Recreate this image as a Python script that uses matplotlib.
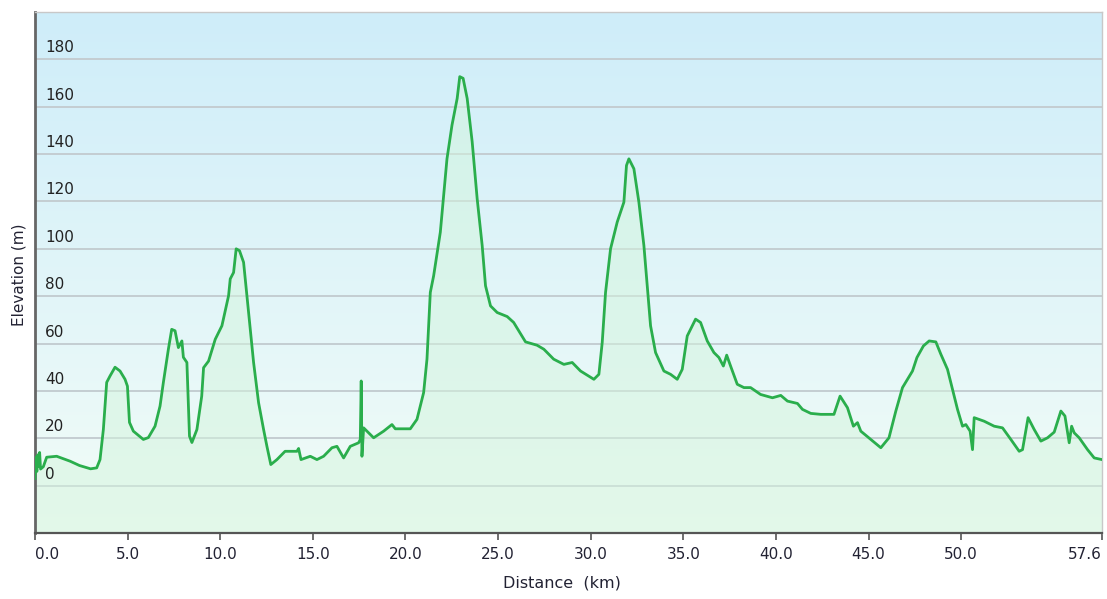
import numpy as np
import matplotlib
matplotlib.use("Agg")
import matplotlib.pyplot as plt
import matplotlib.transforms as mtransforms

# ---------------- Data ----------------
dist_km = [0.0, 0.05, 0.1, 0.15, 0.2, 0.25, 0.3, 0.45, 0.63, 1.17, 1.9, 2.4, 3.0, 3.33, 3.51,
           3.69, 3.87, 4.05, 4.32, 4.59, 4.86, 4.99, 5.1, 5.31, 5.85, 6.12, 6.48, 6.75, 6.93,
           7.2, 7.38, 7.56, 7.74, 7.93, 8.01, 8.2, 8.34, 8.47, 8.74, 9.0, 9.1, 9.37, 9.73,
           10.09, 10.45, 10.54, 10.72, 10.86, 11.04, 11.26, 11.53, 11.8, 12.07, 12.34, 12.52,
           12.73, 13.06, 13.5, 14.14, 14.23, 14.36, 14.86, 15.22, 15.58, 16.03, 16.3, 16.66,
           17.02, 17.47, 17.56, 17.61, 17.65, 17.74, 18.28, 18.82, 19.27, 19.45, 20.26, 20.62,
           20.98, 21.16, 21.34, 21.52, 21.88, 22.24, 22.51, 22.79, 22.93, 23.11, 23.33, 23.6,
           23.87, 24.14, 24.32, 24.59, 24.95, 25.49, 25.84, 26.48, 27.1, 27.47, 28.0, 28.55,
           29.0, 29.45, 30.17, 30.44, 30.62, 30.8, 31.07, 31.43, 31.79, 31.93, 32.06, 32.33,
           32.6, 32.87, 33.05, 33.23, 33.5, 33.95, 34.31, 34.67, 34.94, 35.21, 35.66, 35.93,
           36.29, 36.65, 36.92, 37.16, 37.34, 37.55, 37.91, 38.27, 38.63, 39.17, 39.81, 40.26,
           40.62, 41.16, 41.43, 41.88, 42.42, 42.87, 43.13, 43.46, 43.86, 44.18, 44.4, 44.58,
           45.12, 45.66, 46.1, 46.47, 46.83, 47.37, 47.61, 47.96, 48.27, 48.63, 48.9, 49.26,
           49.8, 50.07, 50.25, 50.48, 50.61, 50.7, 51.24, 51.78, 52.23, 52.68, 53.13, 53.31,
           53.61, 53.94, 54.3, 54.66, 55.02, 55.38, 55.6, 55.83, 55.96, 56.1, 56.37, 56.82,
           57.18, 57.6]
elev_m = [3, 12, 6, 13, 8, 14, 7, 8, 12, 12.4, 10.3, 8.5, 7.1, 7.5, 11,
          23.7, 43.6, 46.3, 50, 48.4, 44.9, 42, 26.7, 23, 19.5, 20.3, 25.1, 33.6, 43.6,
          57.6, 66, 65.4, 58.3, 61.1, 54.2, 52, 20.9, 18.2, 23.7, 37.8, 49.8, 52.6, 61.8,
          67.5, 80.2, 87.3, 90, 100, 99.2, 94.3, 73, 52, 35, 23.7, 16.6,
          8.9, 11, 14.5, 14.5, 15.7, 11, 12.4, 11, 12.4, 16, 16.6, 11.7,
          16.6, 18.1, 19.5, 44.2, 12.4, 24.4, 20.2, 23, 25.8, 24, 24, 28,
          39.3, 53.4, 81.6, 88.6, 107, 138, 152.2, 163.5, 172.7, 172, 163.5, 145.2,
          121.1, 101.4, 84.4, 75.9, 73.1, 71.4, 68.9, 60.7, 59.3, 57.6, 53.4, 51.2,
          52, 48.4, 44.9, 47, 60.4, 81.6, 100, 111.3, 119.7, 135.2, 138, 133.8,
          119.7, 101.4, 84.4, 67.5, 56.2, 48.4, 47, 44.9, 49.1, 63.2, 70.3, 68.9,
          61.1, 56.2, 54.1, 50.5, 55.1, 50.5, 42.8, 41.4, 41.4, 38.5, 37.1, 38.1,
          35.7, 34.7, 32.2, 30.5, 30.1, 30.1, 30.1, 37.8, 32.9, 25.1, 26.6, 23,
          19.5, 16, 20.2, 31.5, 41.4, 48.4, 54.1, 59, 61.1, 60.7, 55.5, 49.1,
          32.2, 25.1, 25.8, 23, 15.2, 28.7, 27.2, 25.1, 24.4, 19.5, 14.5, 15.2,
          28.7, 23.7, 18.8, 20.2, 22.6, 31.5, 29.4, 18.1, 25.1, 22.3, 20.2, 15.2,
          11.7, 11]

x_ticks = [0, 5, 10, 15, 20, 25, 30, 35, 40, 45, 50, 57.6]
y_ticks = [0, 20, 40, 60, 80, 100, 120, 140, 160, 180]

# ---------------- Figure ----------------
W, H = 1107, 599
fig = plt.figure(figsize=(W / 100, H / 100), dpi=100)
ax = fig.add_axes([35 / W, (H - 533) / H, (1102 - 35) / W, (533 - 12) / H])
ax.set_xlim(0, 57.6)
ax.set_ylim(-20, 200)

# background gradient (light blue at top -> very pale green at bottom)
top = np.array([0.81, 0.93, 0.98])
bot = np.array([0.95, 0.99, 0.97])
t = np.linspace(0, 1, 256)[:, None]
grad = (top * (1 - t) + bot * t)[:, None, :]
ax.imshow(grad, extent=[0, 57.6, -20, 200], aspect='auto', zorder=0, origin='upper')

# grid
for yv in y_ticks:
    ax.axhline(yv, color='#c4cdd1', lw=1.4, zorder=1)

# area + line
ax.fill_between(dist_km, elev_m, -20, color='#d4f5dd', alpha=0.5, lw=0, zorder=2)
ax.plot(dist_km, elev_m, color='#2aae4c', lw=2.0, zorder=3, solid_joinstyle='round')

# y labels inside the plot, above gridlines
trans = mtransforms.blended_transform_factory(ax.transAxes, ax.transData)
for yv in y_ticks:
    ax.annotate(str(yv), xy=(0, yv), xycoords=trans, xytext=(10, 4), textcoords='offset pixels',
                ha='left', va='bottom', fontsize=11, color='#222222', zorder=4)
ax.set_yticks([])

ax.set_xticks(x_ticks)
ax.set_xticklabels(['%.1f' % v for v in x_ticks], fontsize=11, color='#222233')
ax.get_xticklabels()[0].set_horizontalalignment('left')
ax.get_xticklabels()[-1].set_horizontalalignment('right')
ax.tick_params(axis='x', direction='out', length=5, width=1.2, color='#555555', pad=5)

for side in ['top', 'right']:
    ax.spines[side].set_color('#c8c8c8')
    ax.spines[side].set_linewidth(1)
ax.spines['left'].set_color('#666666')
ax.spines['left'].set_linewidth(2)
ax.spines['bottom'].set_color('#555555')
ax.spines['bottom'].set_linewidth(1.6)

fig.text(562 / W, 1 - 583 / H, 'Distance  (km)', ha='center', va='center', fontsize=11.5, color='#222233')
fig.text(19 / W, 1 - 275 / H, 'Elevation (m)', ha='center', va='center', rotation=90,
         fontsize=11, color='#222233')

fig.savefig('out.png', dpi=100)
